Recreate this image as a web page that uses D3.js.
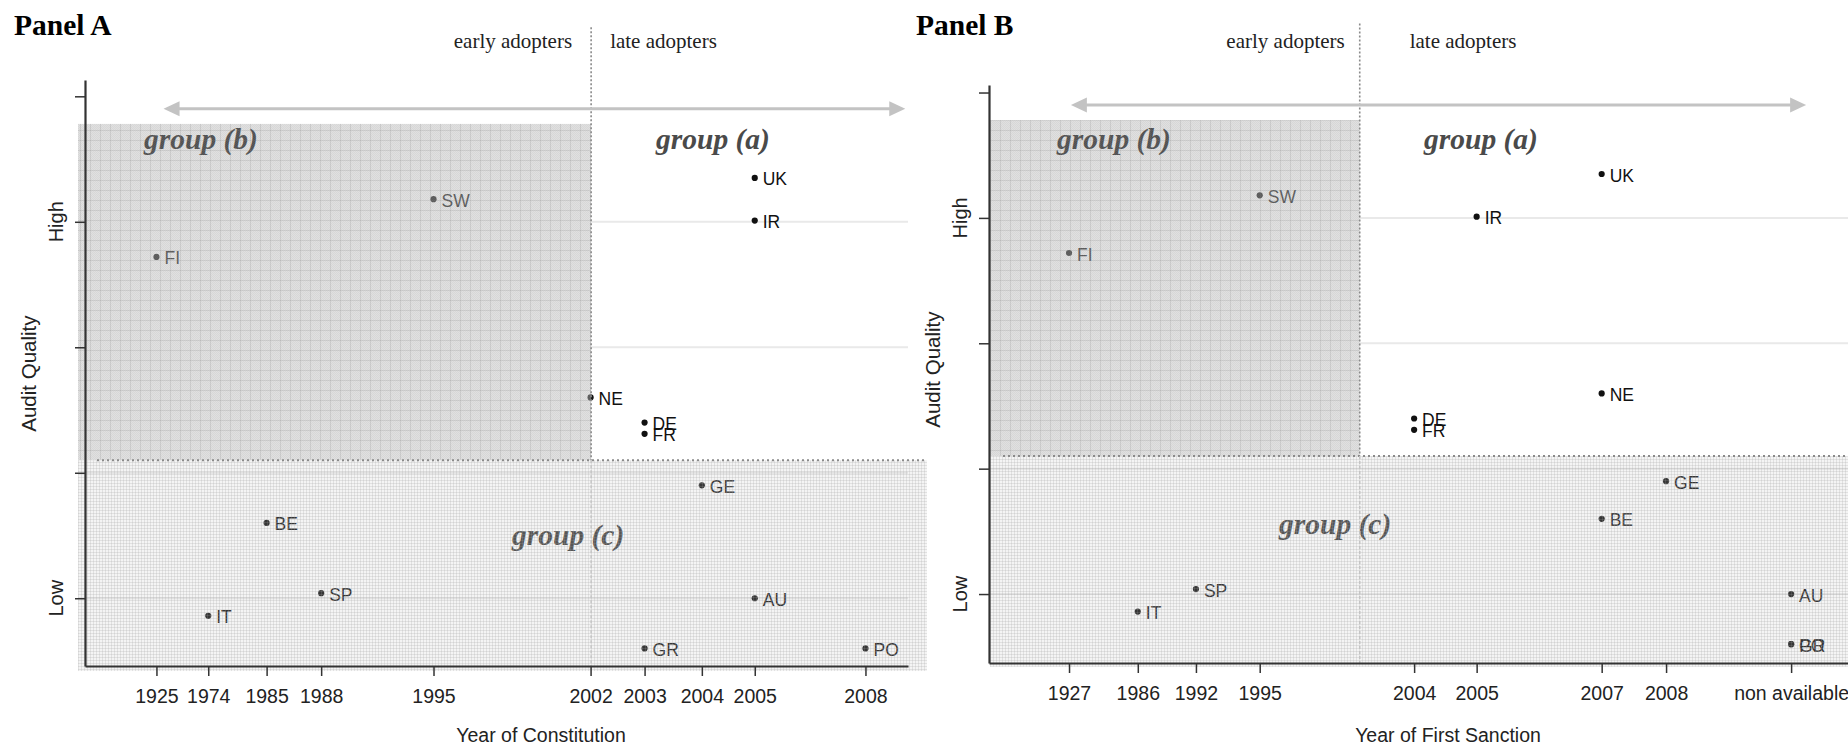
<!DOCTYPE html>
<html><head><meta charset="utf-8">
<script src="https://cdn.jsdelivr.net/npm/d3@7"></script>
<style>
html,body{margin:0;padding:0;background:#fff;}
svg{display:block;}
</style></head><body>
<svg id="chart" width="1848" height="747"></svg>
<script>
// ---------------- DATA ----------------
const countries = ["FI","SW","UK","IR","NE","DE","FR","GE","BE","SP","AU","IT","GR","PO"];
const auditQuality = [3.72,4.18,4.35,4.01,2.60,2.40,2.31,1.90,1.60,1.04,1.00,0.86,0.60,0.60];
const yearConstitution = ["1925","1995","2005","2005","2002","2003","2003","2004","1985","1988","2005","1974","2003","2008"];
const yearFirstSanction = ["1927","1995","2007","2005","2007","2004","2004","2008","2007","1992","non available","1986","non available","non available"];

const ticksA = ["1925","1974","1985","1988","1995","2002","2003","2004","2005","2008"];
const slotsA = [0, 0.95, 2.02, 3.02, 5.08, 7.96, 8.95, 10, 10.97, 13];
const ticksB = ["1927","1986","1992","1995","2004","2005","2007","2008","non available"];
const slotsB = [0, 1.1, 2.03, 3.05, 5.52, 6.52, 8.52, 9.55, 11.55];

const yTickValues = [1,2,3,4,5];
const yTickLabels = ["Low","","","High",""];

const boundaryQuality = 2.1;   // group (c) / upper split
const groupTop = 4.78;

// ---------------- SETUP ----------------
const svg = d3.select("#chart");
const defs = svg.append("defs");

const pB = defs.append("pattern").attr("id","hatchB")
  .attr("patternUnits","userSpaceOnUse").attr("width",10).attr("height",10);
pB.append("rect").attr("width",10).attr("height",10).attr("fill","rgb(185,185,185)").attr("fill-opacity",0.44);
for (let i=0;i<10;i++) for (let j=0;j<10;j++) if ((i+j)%2===0)
  pB.append("rect").attr("x",i).attr("y",j).attr("width",1).attr("height",1)
    .attr("fill","rgb(150,150,150)").attr("fill-opacity",0.12);
pB.append("rect").attr("width",10).attr("height",1).attr("fill","rgb(130,130,130)").attr("fill-opacity",0.18);
pB.append("rect").attr("width",1).attr("height",10).attr("fill","rgb(130,130,130)").attr("fill-opacity",0.18);

const pC = defs.append("pattern").attr("id","hatchC")
  .attr("patternUnits","userSpaceOnUse").attr("width",3).attr("height",3);
pC.append("rect").attr("width",3).attr("height",3).attr("fill","rgb(200,200,200)").attr("fill-opacity",0.2);
pC.append("rect").attr("width",3).attr("height",1).attr("fill","rgb(160,160,160)").attr("fill-opacity",0.22);
pC.append("rect").attr("width",1).attr("height",3).attr("fill","rgb(160,160,160)").attr("fill-opacity",0.22);

const panels = [
  {
    title: "Panel A", titleX: 14,
    ticks: ticksA, slots: slotsA, xVals: yearConstitution,
    xDomain: [-1.31, 13.78], xRange: [85, 908],
    yDomain: [0.46, 5.13], yRange: [666, 80],
    boundary: 7.97, regionLeftPx: 78, regionRightPx: 927, hLineLeftPx: 97,
    arrow: [0.13, 13.73],
    earlyGap: 19, lateGap: 19,
    gB: 144, gA: 656, gC: [512, 545], gTopBase: 149,
    xTitle: "Year of Constitution", xTitleX: 541
  },
  {
    title: "Panel B", titleX: 916,
    ticks: ticksB, slots: slotsB, xVals: yearFirstSanction,
    xDomain: [-1.28, 12.46], xRange: [989, 1848],
    yDomain: [0.45, 5.06], yRange: [663, 85],
    boundary: 4.65, regionLeftPx: 990, regionRightPx: 1848, hLineLeftPx: 1003,
    arrow: [0.03, 11.79],
    earlyGap: 15, lateGap: 50,
    gB: 1057, gA: 1424, gC: [1279, 534], gTopBase: 149,
    xTitle: "Year of First Sanction", xTitleX: 1448
  }
];

const sans = "'Liberation Sans', Arial, sans-serif";
const serif = "'Liberation Serif', 'Times New Roman', serif";

panels.forEach(p => {
  const x = d3.scaleLinear().domain(p.xDomain).range(p.xRange);
  const y = d3.scaleLinear().domain(p.yDomain).range(p.yRange);
  const slotOf = lab => p.slots[p.ticks.indexOf(lab)];
  const g = svg.append("g");

  // gridlines
  g.append("g").selectAll("line").data([1,2,3,4]).join("line")
    .attr("x1", d => d >= boundaryQuality ? x(p.boundary) : p.xRange[0])
    .attr("x2", p.xRange[1])
    .attr("y1", d => y(d)).attr("y2", d => y(d))
    .attr("stroke", "#e9e9e9").attr("stroke-width", 2);

  // group labels
  const gStyle = (sel, col) => sel.attr("font-family", serif).attr("font-size", 29.5)
    .attr("font-weight", "bold").attr("font-style", "italic").attr("fill", col);
  g.append("text").attr("x", p.gB).attr("y", p.gTopBase).text("group (b)").call(gStyle, "#000");
  g.append("text").attr("x", p.gA).attr("y", p.gTopBase).text("group (a)").call(gStyle, "#4a4a4a");
  g.append("text").attr("x", p.gC[0]).attr("y", p.gC[1]).text("group (c)").call(gStyle, "#3a3a3a");

  // points
  const pts = countries.map((c, i) => ({c, xs: slotOf(p.xVals[i]), q: auditQuality[i]}));
  g.append("g").selectAll("circle").data(pts).join("circle")
    .attr("cx", d => x(d.xs)).attr("cy", d => y(d.q)).attr("r", 3.1).attr("fill", "#111");
  g.append("g").selectAll("text").data(pts).join("text")
    .attr("x", d => x(d.xs) + 8).attr("y", d => y(d.q) + 7.5)
    .attr("font-family", sans).attr("font-size", 17.5).attr("fill", "#111")
    .text(d => d.c);

  // overlays
  const yMid = y(boundaryQuality);
  g.append("rect").attr("x", p.regionLeftPx).attr("y", y(groupTop))
    .attr("width", x(p.boundary) - p.regionLeftPx).attr("height", yMid - y(groupTop))
    .attr("fill", "url(#hatchB)");
  g.append("rect").attr("x", p.regionLeftPx).attr("y", yMid)
    .attr("width", p.regionRightPx - p.regionLeftPx).attr("height", y(0.42) - yMid)
    .attr("fill", "url(#hatchC)");

  // dotted boundary lines
  g.append("line").attr("x1", p.hLineLeftPx).attr("x2", p.regionRightPx)
    .attr("y1", yMid).attr("y2", yMid)
    .attr("stroke", "#8a8a8a").attr("stroke-width", 2).attr("stroke-dasharray", "2,3");
  g.append("line").attr("x1", x(p.boundary)).attr("x2", x(p.boundary))
    .attr("y1", y(5.55)).attr("y2", yMid)
    .attr("stroke", "#8a8a8a").attr("stroke-width", 1.6).attr("stroke-dasharray", "2,2");
  g.append("line").attr("x1", x(p.boundary)).attr("x2", x(p.boundary))
    .attr("y1", yMid).attr("y2", p.yRange[0])
    .attr("stroke", "#c4c4c4").attr("stroke-width", 1.5).attr("stroke-dasharray", "3,2");

  // arrow
  const ay = y(4.9), ax0 = x(p.arrow[0]), ax1 = x(p.arrow[1]);
  g.append("line").attr("x1", ax0 + 10).attr("x2", ax1 - 10).attr("y1", ay).attr("y2", ay)
    .attr("stroke", "#c3c3c3").attr("stroke-width", 3);
  g.append("path").attr("d", `M${ax0},${ay}L${ax0+16},${ay-7.5}L${ax0+16},${ay+7.5}Z`).attr("fill", "#c3c3c3");
  g.append("path").attr("d", `M${ax1},${ay}L${ax1-16},${ay-7.5}L${ax1-16},${ay+7.5}Z`).attr("fill", "#c3c3c3");

  // early / late adopters
  g.append("text").attr("x", x(p.boundary) - p.earlyGap).attr("y", 48)
    .attr("text-anchor", "end").attr("font-family", serif).attr("font-size", 21).attr("fill", "#222")
    .text("early adopters");
  g.append("text").attr("x", x(p.boundary) + p.lateGap).attr("y", 48)
    .attr("font-family", serif).attr("font-size", 21).attr("fill", "#222")
    .text("late adopters");

  // axes
  const xAxis = d3.axisBottom(x).tickValues(p.slots).tickFormat((d, i) => p.ticks[i])
    .tickSize(10).tickPadding(13).tickSizeOuter(0);
  const gx = g.append("g").attr("transform", `translate(0,${p.yRange[0]})`).call(xAxis);
  gx.select(".domain").attr("stroke", "#333").attr("stroke-width", 2.2);
  gx.selectAll(".tick line").attr("stroke", "#333").attr("stroke-width", 1.5);
  gx.selectAll(".tick text").attr("font-family", sans).attr("font-size", 19.5).attr("fill", "#222");

  const yAxis = d3.axisLeft(y).tickValues(yTickValues).tickFormat("").tickSize(10).tickSizeOuter(0);
  const gy = g.append("g").attr("transform", `translate(${p.xRange[0]},0)`).call(yAxis);
  gy.select(".domain").attr("stroke", "#333").attr("stroke-width", 2.2);
  gy.selectAll(".tick line").attr("stroke", "#333").attr("stroke-width", 1.5);

  // rotated y tick labels
  g.append("g").selectAll("text").data(yTickValues.filter((d, i) => yTickLabels[i]))
    .join("text")
    .attr("transform", d => `translate(${p.xRange[0] - 22},${y(d)}) rotate(-90)`)
    .attr("text-anchor", "middle").attr("font-family", sans).attr("font-size", 20).attr("fill", "#222")
    .text(d => yTickLabels[yTickValues.indexOf(d)]);

  g.append("text")
    .attr("transform", `translate(${p.xRange[0] - 49},${y(2.79)}) rotate(-90)`)
    .attr("text-anchor", "middle").attr("font-family", sans).attr("font-size", 20.5).attr("fill", "#222")
    .text("Audit Quality");

  g.append("text").attr("x", p.xTitleX).attr("y", 742).attr("text-anchor", "middle")
    .attr("font-family", sans).attr("font-size", 19.5).attr("fill", "#222").text(p.xTitle);

  g.append("text").attr("x", p.titleX).attr("y", 35)
    .attr("font-family", serif).attr("font-size", 29.5).attr("font-weight", "bold").attr("fill", "#000")
    .text(p.title);
});
</script>
</body></html>
